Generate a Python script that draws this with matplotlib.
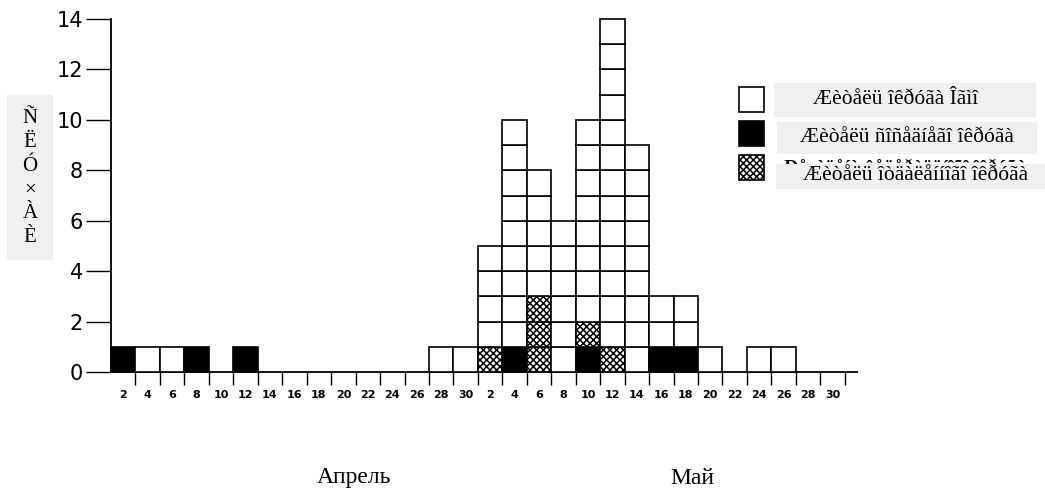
import matplotlib
matplotlib.use("Agg")
import matplotlib.pyplot as plt
from matplotlib.patches import Rectangle

# ---- data (two-day bins) ----
april_days = [2, 4, 6, 8, 10, 12, 14, 16, 18, 20, 22, 24, 26, 28, 30]
may_days = [2, 4, 6, 8, 10, 12, 14, 16, 18, 20, 22, 24, 26, 28, 30]

# residents of the local district (white)
april_local = [0, 1, 1, 0, 0, 0, 0, 0, 0, 0, 0, 0, 0, 1, 1]
may_local = [4, 9, 5, 6, 8, 13, 9, 2, 2, 1, 0, 1, 1, 0, 0]
# residents of neighbouring district (black)
april_neigh = [1, 0, 0, 1, 0, 1, 0, 0, 0, 0, 0, 0, 0, 0, 0]
may_neigh = [0, 1, 0, 0, 1, 0, 0, 1, 1, 0, 0, 0, 0, 0, 0]
# residents of distant district (stippled)
april_dist = [0, 0, 0, 0, 0, 0, 0, 0, 0, 0, 0, 0, 0, 0, 0]
may_dist = [1, 0, 3, 0, 1, 1, 0, 0, 0, 0, 0, 0, 0, 0, 0]

yticks = [0, 2, 4, 6, 8, 10, 12, 14]
ylabel_chars = ["Ñ", "Ë", "Ó", "×", "À", "È"]
legend_labels = ["Æèòåëü îêðóãà Îãìî", "Æèòåëü ñîñåäíåãî îêðóãà", "Æèòåëü îòäàëåííîãî îêðóãà"]
hidden_label = "Ðåçèäåíò ôåäåðàëüíîãî îêðóãà"
month_labels = ["Апрель", "Май"]

labels = april_days + may_days
local = april_local + may_local
neigh = april_neigh + may_neigh
dist = april_dist + may_dist

W, H = 1045, 491
fig = plt.figure(figsize=(W / 100, H / 100), dpi=100)
ax = fig.add_axes([111 / W, 1 - 372 / H, (857 - 111) / W, (372 - 19) / H])

hatch = "xxxxx"
plt.rcParams["hatch.linewidth"] = 1.1

for i in range(len(labels)):
    bottom = 0
    for count, fc, h in ((neigh[i], "black", None), (dist[i], "white", hatch), (local[i], "white", None)):
        for k in range(count):
            ax.bar(i + 0.5, 1, width=1, bottom=bottom, facecolor=fc, edgecolor="black",
                   linewidth=1.2, hatch=h, clip_on=False, zorder=3)
            bottom += 1

ax.set_xlim(0, 30.5)
ax.set_ylim(0, 14)
for s in ("top", "right"):
    ax.spines[s].set_visible(False)
ax.spines["left"].set_linewidth(1.3)
ax.spines["bottom"].set_linewidth(1.3)

ax.set_yticks(yticks)
ax.set_yticklabels([str(v) for v in yticks], fontsize=15, fontfamily="DejaVu Sans")
ax.tick_params(axis="y", direction="out", length=18, width=1.0, pad=2)

ax.set_xticks([i + 0.5 for i in range(len(labels))])
ax.set_xticklabels([str(v) for v in labels], fontsize=8, fontweight="bold")
ax.tick_params(axis="x", which="major", length=0, pad=13)
ax.set_xticks(list(range(1, len(labels) + 1)), minor=True)
ax.tick_params(axis="x", which="minor", direction="out", length=9.5, width=1.0)

# y label in a grey box
fig.patches.append(Rectangle((7 / W, 1 - 260 / H), 46 / W, 165 / H, transform=fig.transFigure,
                             facecolor="#f0f0f0", edgecolor="none", zorder=1))
fig.text(30 / W, 1 - 178 / H, "\n".join(ylabel_chars), ha="center", va="center",
         fontsize=15, fontfamily="Liberation Serif", linespacing=1.33, zorder=2)

# legend
swatches = [("white", None, 87), ("black", None, 121), ("white", hatch, 155)]
for fc, h, y0 in swatches:
    fig.patches.append(Rectangle((739 / W, 1 - (y0 + 25) / H), 25 / W, 25 / H, transform=fig.transFigure,
                                 facecolor=fc, edgecolor="black", linewidth=1.2, hatch=h, zorder=3))

boxes = [(774, 83, 262, 34, 896, 100), (777, 122, 260, 32, 907, 138), (776, 164, 269, 25, 916, 176)]
hid = fig.text(905 / W, 1 - 168 / H, hidden_label, ha="center", va="center", fontsize=14,
               fontweight="bold", fontfamily="Liberation Serif", zorder=1)
clip = Rectangle((760 / W, 1 - 164 / H), 285 / W, 12 / H, transform=fig.transFigure)
hid.set_clip_path(clip)
for (bx, by, bw, bh, tx, ty), lab in zip(boxes, legend_labels):
    fig.patches.append(Rectangle((bx / W, 1 - (by + bh) / H), bw / W, bh / H, transform=fig.transFigure,
                                 facecolor="#f0f0f0", edgecolor="none", zorder=2))
    fig.text(tx / W, 1 - ty / H, lab, ha="center", va="center", fontsize=15.5,
             fontfamily="Liberation Serif", zorder=4)

# month labels
fig.text(354 / W, 1 - 478 / H, month_labels[0], ha="center", va="center", fontsize=17,
         fontfamily="Liberation Serif")
fig.text(692 / W, 1 - 478 / H, month_labels[1], ha="center", va="center", fontsize=17,
         fontfamily="Liberation Serif")

fig.savefig("out.png", dpi=100)
